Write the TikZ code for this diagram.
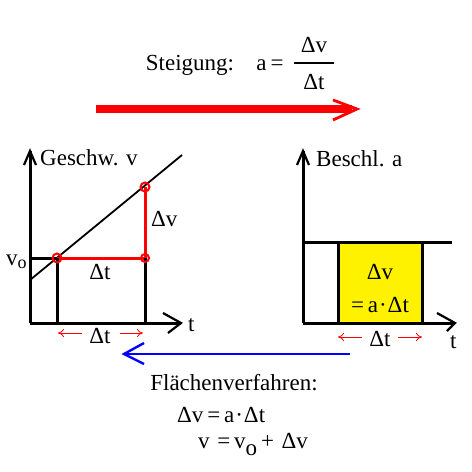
\documentclass[tikz,border=0pt]{standalone}
\usepackage{fontspec}
\setmainfont{Liberation Serif}
\usetikzlibrary{arrows.meta,calc}
\begin{document}
\begin{tikzpicture}[x=1pt,y=-1pt,
  lbl/.style={inner sep=0pt,font=\fontsize{23}{26}\selectfont},
  axis/.style={line width=3pt},
  redl/.style={red,line width=3pt},
  pt/.style={draw=red,line width=2pt,circle,minimum size=9pt,inner sep=0pt},
  small/.style={red,line width=0.8pt,-{To[length=6pt,width=8pt]}}]
\useasboundingbox (0,0) rectangle (472,472);
% --- top: Steigung
\node[lbl,anchor=base] (st) at (190,70) {Steigung:};
\node[lbl,anchor=base] (aeq) at (270,70) {a\,=};
\node[lbl,anchor=base] (dv1) at (314,52) {Δv};
\node[lbl,anchor=base] (dt1) at (314,89) {Δt};
\draw[line width=2pt] (294,63) -- (334,63);
% red arrow
\coordinate (ra1) at (96,109);
\coordinate (ra2) at (352,109);
\coordinate (rat) at (357,109);
\draw[red,line width=8pt] (ra1) -- (ra2);
\draw[red,line width=2.8pt,line join=miter] ($(rat)+(-24,-9)$) -- (rat) -- ($(rat)+(-24,11)$);
% --- left graph
\coordinate (lo) at (30,323);
\coordinate (ly) at (30,151);
\coordinate (lx) at (181,323);
\draw[axis] (lo) -- (ly);
\draw[axis] (lo) -- (lx);
\draw[line width=2.2pt] ($(ly)+(-6,14)$) -- (ly) -- ($(ly)+(6,14)$);
\draw[line width=2.2pt] ($(lx)+(-18,-10)$) -- (lx) -- ($(lx)+(-13,10)$);
\node[lbl,anchor=base west] (gv) at (40,165) {Geschw. v};
\node[lbl,anchor=base west] (lt) at (188,331) {t};
% line
\coordinate (l1) at (30,280);
\coordinate (l2) at (182,155);
\draw[line width=1.8pt] (l1) -- (l2);
% points
\coordinate (p1) at (57,258);
\coordinate (p2) at (145,258);
\coordinate (p3) at (145,187);
\coordinate (v0) at (30,258);
\draw[axis] (v0) -- (p1);
\draw[redl] (p1) -- (p2) -- (p3);
\coordinate (b1) at (57,323);
\coordinate (b2) at (145,323);
\draw[axis] (p1) -- (b1);
\draw[axis] (p2) -- (b2);
\node[pt] (c1) at (p1) {};
\node[pt,minimum size=8pt] (c2) at (p2) {};
\node[pt] (c3) at (p3) {};
\node[lbl,anchor=base west] (v0l) at (6,265) {v\lower3pt\hbox{\fontsize{18}{20}\selectfont o}};
\node[lbl,anchor=base] (dtl) at (100,279) {Δt};
\node[lbl,anchor=base west] (dvl) at (151,226) {Δv};
\node[lbl,anchor=base] (dtb) at (100,343) {Δt};
\coordinate (la1) at (82,333);
\coordinate (la2) at (58,333);
\coordinate (la3) at (120,333);
\coordinate (la4) at (143,333);
\draw[small] (la1) -- (la2);
\draw[small] (la3) -- (la4);
% --- right graph
\coordinate (ro) at (303,323);
\coordinate (ry) at (303,151);
\coordinate (rx) at (455,323);
\draw[axis] (ro) -- (ry);
\draw[axis] (ro) -- (rx);
\draw[line width=2.2pt] ($(ry)+(-6,14)$) -- (ry) -- ($(ry)+(6,14)$);
\draw[line width=2.2pt] ($(rx)+(-18,-10)$) -- (rx) -- ($(rx)+(-8,8)$);
\node[lbl,anchor=base west] (ba) at (316,166) {Beschl. a};
\node[lbl,anchor=base west] (rt) at (450,348) {t};
\coordinate (al1) at (303,242);
\coordinate (al2) at (452,242);
\draw[axis] (al1) -- (al2);
\coordinate (r1) at (338,242);
\coordinate (r2) at (422,323);
\draw[axis,fill=yellow] (r1) rectangle (r2);
\node[lbl,anchor=base] (dvr) at (380,279) {Δv};
\node[lbl,anchor=base] (eqr) at (380,312) {=\,a\kern1pt·\kern1ptΔt};
\node[lbl,anchor=base] (dtr) at (380,346) {Δt};
\coordinate (ra3) at (362,337);
\coordinate (ra4) at (338,337);
\coordinate (ra5) at (398,337);
\coordinate (ra6) at (422,337);
\draw[small] (ra3) -- (ra4);
\draw[small] (ra5) -- (ra6);
% blue arrow
\coordinate (bl1) at (350,354);
\coordinate (bl2) at (124,354);
\draw[blue,line width=2.8pt] (bl1) -- (bl2);
\draw[blue,line width=2.4pt] ($(bl2)+(20,-11)$) -- (bl2) -- ($(bl2)+(20,10)$);
% bottom text
\node[lbl,anchor=base] (fv) at (234,390) {Flächenverfahren:};
\node[lbl,anchor=base west] (f1) at (177,422) {Δv\,=\,a\kern1pt·\kern1ptΔt};
\node[lbl,anchor=base west] (f2) at (198,448) {v\,\,=\,v\lower7pt\hbox{o}\,+\,\,Δv};
\end{tikzpicture}
\end{document}
